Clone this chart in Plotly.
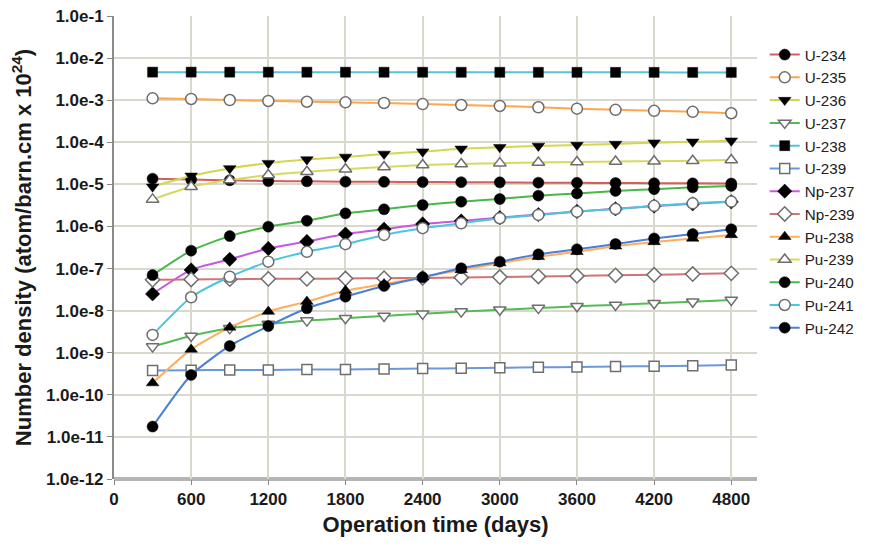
import plotly.graph_objects as go

days = [300, 600, 900, 1200, 1500, 1800, 2100, 2400, 2700, 3000, 3300, 3600, 3900, 4200, 4500, 4800]

u234 = [1.37e-5, 1.3e-5, 1.25e-5, 1.2e-5, 1.18e-5, 1.16e-5, 1.15e-5, 1.14e-5, 1.13e-5, 1.12e-5, 1.1e-5, 1.09e-5, 1.08e-5, 1.07e-5, 1.06e-5, 1.05e-5]
u235 = [1.11e-3, 1.07e-3, 1.01e-3, 9.6e-4, 9.2e-4, 8.9e-4, 8.6e-4, 8.1e-4, 7.7e-4, 7.3e-4, 6.8e-4, 6.3e-4, 5.9e-4, 5.6e-4, 5.3e-4, 4.9e-4]
u236 = [8.8e-6, 1.6e-5, 2.4e-5, 3.2e-5, 3.9e-5, 4.5e-5, 5.3e-5, 6.0e-5, 7.0e-5, 7.6e-5, 8.2e-5, 8.6e-5, 9.1e-5, 9.8e-5, 1.03e-4, 1.09e-4]
u237 = [1.4e-9, 2.5e-9, 3.8e-9, 4.8e-9, 5.8e-9, 6.6e-9, 7.5e-9, 8.4e-9, 9.5e-9, 1.05e-8, 1.15e-8, 1.27e-8, 1.37e-8, 1.5e-8, 1.62e-8, 1.8e-8]
u238 = [4.65e-3, 4.65e-3, 4.64e-3, 4.64e-3, 4.63e-3, 4.63e-3, 4.62e-3, 4.62e-3, 4.61e-3, 4.61e-3, 4.6e-3, 4.6e-3, 4.59e-3, 4.59e-3, 4.58e-3, 4.58e-3]
u239 = [3.8e-10, 3.85e-10, 3.9e-10, 3.9e-10, 4.0e-10, 4.0e-10, 4.1e-10, 4.2e-10, 4.3e-10, 4.4e-10, 4.5e-10, 4.6e-10, 4.7e-10, 4.8e-10, 4.9e-10, 5.1e-10]
np237 = [2.5e-8, 9.3e-8, 1.66e-7, 3.0e-7, 4.4e-7, 6.6e-7, 8.6e-7, 1.15e-6, 1.35e-6, 1.62e-6, 1.92e-6, 2.28e-6, 2.62e-6, 3.05e-6, 3.45e-6, 3.85e-6]
np239 = [5.4e-8, 5.5e-8, 5.6e-8, 5.7e-8, 5.7e-8, 5.8e-8, 5.9e-8, 6.0e-8, 6.1e-8, 6.3e-8, 6.5e-8, 6.7e-8, 6.9e-8, 7.1e-8, 7.4e-8, 7.7e-8]
pu238 = [1.9e-10, 1.2e-9, 4.0e-9, 9.5e-9, 1.64e-8, 3.0e-8, 4.3e-8, 6.2e-8, 9.3e-8, 1.35e-7, 1.9e-7, 2.5e-7, 3.4e-7, 4.3e-7, 5.2e-7, 6.3e-7]
pu239 = [4.4e-6, 8.8e-6, 1.27e-5, 1.67e-5, 2.0e-5, 2.3e-5, 2.6e-5, 2.9e-5, 3.05e-5, 3.2e-5, 3.3e-5, 3.4e-5, 3.5e-5, 3.55e-5, 3.66e-5, 3.8e-5]
pu240 = [7.0e-8, 2.66e-7, 5.9e-7, 9.9e-7, 1.37e-6, 2.05e-6, 2.56e-6, 3.24e-6, 3.88e-6, 4.5e-6, 5.4e-6, 6.1e-6, 7.0e-6, 7.7e-6, 8.5e-6, 9.2e-6]
pu241 = [2.65e-9, 2.08e-8, 6.4e-8, 1.46e-7, 2.5e-7, 3.8e-7, 6.3e-7, 9.1e-7, 1.19e-6, 1.57e-6, 1.88e-6, 2.25e-6, 2.6e-6, 3.1e-6, 3.55e-6, 3.9e-6]
pu242 = [1.76e-11, 2.97e-10, 1.45e-9, 4.3e-9, 1.14e-8, 2.15e-8, 3.87e-8, 6.2e-8, 1.02e-7, 1.46e-7, 2.18e-7, 2.87e-7, 3.84e-7, 5.2e-7, 6.6e-7, 8.6e-7]

y_tick_vals = [1e-1, 1e-2, 1e-3, 1e-4, 1e-5, 1e-6, 1e-7, 1e-8, 1e-9, 1e-10, 1e-11, 1e-12]
y_tick_text = ["1.0e-1", "1.0e-2", "1.0e-3", "1.0e-4", "1.0e-5", "1.0e-6", "1.0e-7", "1.0e-8", "1.0e-9", "1.0e-10", "1.0e-11", "1.0e-12"]
x_tick_vals = [0, 600, 1200, 1800, 2400, 3000, 3600, 4200, 4800]

series = [
    ("U-234", u234, "#d0605c", "circle", True),
    ("U-235", u235, "#ffa64d", "circle", False),
    ("U-236", u236, "#d6d64e", "triangle-down", True),
    ("U-237", u237, "#55bb55", "triangle-down", False),
    ("U-238", u238, "#55c4d8", "square", True),
    ("U-239", u239, "#6a98dc", "square", False),
    ("Np-237", np237, "#c659e0", "diamond", True),
    ("Np-239", np239, "#d27474", "diamond", False),
    ("Pu-238", pu238, "#ffad5a", "triangle-up", True),
    ("Pu-239", pu239, "#d8d860", "triangle-up", False),
    ("Pu-240", pu240, "#48b848", "circle", True),
    ("Pu-241", pu241, "#4cc6dc", "circle", False),
    ("Pu-242", pu242, "#4a7fd6", "circle", True),
]

fig = go.Figure()
for name, vals, color, sym, filled in series:
    marker = dict(symbol=sym, size=11 if sym != "square" else 10,
                  color="black" if filled else "white",
                  line=dict(color="black" if filled else "#6e6e6e", width=1.5 if not filled else 0.5))
    fig.add_trace(go.Scatter(x=days, y=vals, name=name, mode="lines+markers",
                             line=dict(color=color, width=2, shape="spline", smoothing=0.6),
                             marker=marker))

font_family = "Liberation Sans, Arial, sans-serif"
fig.update_layout(
    width=886, height=541,
    margin=dict(l=106, r=137, t=8, b=70),
    paper_bgcolor="white", plot_bgcolor="white",
    font=dict(family=font_family, color="#1a1a1a"),
    showlegend=True,
    legend=dict(x=1.012, y=0.952, xanchor="left", yanchor="top",
                font=dict(size=15.2, family=font_family, color="#222"),
                bgcolor="rgba(0,0,0,0)", tracegroupgap=0),
    xaxis=dict(range=[0, 5000], tickvals=x_tick_vals, ticktext=[str(v) for v in x_tick_vals],
               automargin=False,
               showgrid=True, gridcolor="#d8d8cc", gridwidth=1.5,
               showline=False, zeroline=False,
               ticks="outside", ticklen=5, tickcolor="#888",
               tickfont=dict(size=17, family=font_family, color="#1a1a1a", weight="bold"),
               title=dict(text="Operation time (days)", standoff=8,
                          font=dict(size=22, family=font_family, color="#1a1a1a", weight="bold"))),
    yaxis=dict(type="log", range=[-12, -0.999], tickvals=y_tick_vals, ticktext=y_tick_text,
               automargin=False, ticklabeloverflow="allow",
               showgrid=True, gridcolor="#d8d8cc", gridwidth=1.5,
               showline=True, linecolor="#8a8a8a", linewidth=2,
               ticks="outside", ticklen=5, tickcolor="#888",
               tickfont=dict(size=17, family=font_family, color="#1a1a1a", weight="bold"),
               title=dict(text="Number density (atom/barn.cm x 10<sup>24</sup>)", standoff=8,
                          font=dict(size=22, family=font_family, color="#1a1a1a", weight="bold"))),
)
# thick bottom axis line at 1e-12
fig.add_shape(type="line", xref="paper", yref="paper", x0=0, x1=1, y0=0, y1=0,
              line=dict(color="#b4b4b4", width=4), layer="below")

fig.write_html("out.html")
